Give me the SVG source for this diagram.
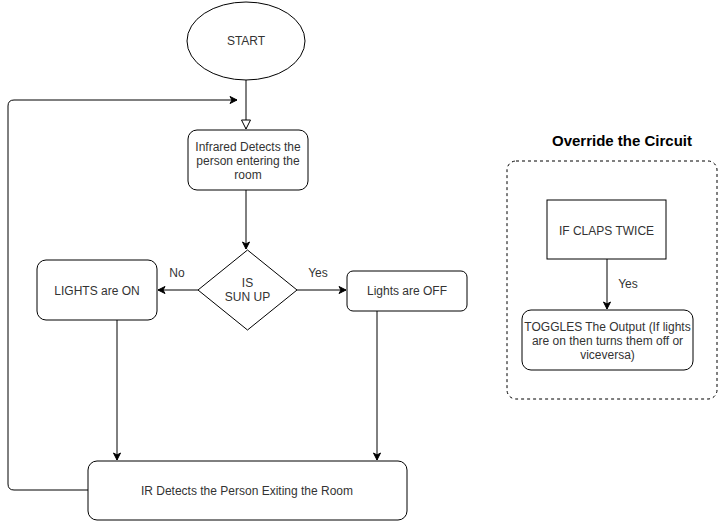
<svg xmlns="http://www.w3.org/2000/svg" width="723" height="521" viewBox="0 0 723 521">
<defs>
<style>
text{font-family:"Liberation Sans",Arial,sans-serif;font-size:12px;fill:#333;text-anchor:middle}
.s{fill:#fff;stroke:#000;stroke-width:1}
.c{fill:none;stroke:#000;stroke-width:1}
.t{font-size:15px;font-weight:bold;fill:#000}
</style>
<marker id="a" markerWidth="10" markerHeight="10" refX="8" refY="5" orient="auto" markerUnits="userSpaceOnUse">
<path d="M1,1.5 L8,5 L1,8.5 L3,5 Z" fill="#000" stroke="#000"/>
</marker>
<marker id="o" markerWidth="12" markerHeight="12" refX="10" refY="6" orient="auto" markerUnits="userSpaceOnUse">
<path d="M1,1.5 L10,6 L1,10.5 Z" fill="#fff" stroke="#000"/>
</marker>
</defs>
<rect width="723" height="521" fill="#fff"/>
<g id="connectors">
<path class="c" d="M246,80 V129" marker-end="url(#o)"/>
<path class="c" d="M246,190 V249" marker-end="url(#a)"/>
<path class="c" d="M198,290 H158" marker-end="url(#a)"/>
<path class="c" d="M297,290 H346" marker-end="url(#a)"/>
<path class="c" d="M117,320 V460" marker-end="url(#a)"/>
<path class="c" d="M377,311 V460" marker-end="url(#a)"/>
<path class="c" d="M88,490 H14 Q8,490 8,484 V106 Q8,100 14,100 H237" marker-end="url(#a)"/>
<path class="c" d="M607,259 V309" marker-end="url(#a)"/>
<text x="177" y="277">No</text>
<rect x="308" y="266" width="21" height="14" fill="#fff"/>
<text x="318" y="277">Yes</text>
<rect x="618" y="277" width="21" height="14" fill="#fff"/>
<text x="628" y="288">Yes</text>
</g>
<g id="start">
<ellipse class="s" cx="246" cy="41" rx="59" ry="39"/>
<text x="246" y="45">START</text>
</g>
<g id="infrared">
<rect class="s" x="188" y="130" width="120" height="60" rx="9"/>
<text x="248" y="151">Infrared Detects the</text>
<text x="248" y="165">person entering the</text>
<text x="248" y="179">room</text>
</g>
<g id="sunup">
<path class="s" d="M247.5,250 L297,290 L247.5,330 L198,290 Z"/>
<text x="247.5" y="287">IS</text>
<text x="247.5" y="301">SUN UP</text>
</g>
<g id="lightson">
<rect class="s" x="37" y="260" width="120" height="60" rx="9"/>
<text x="97" y="295">LIGHTS are ON</text>
</g>
<g id="lightsoff">
<rect class="s" x="347" y="271" width="120" height="40" rx="6"/>
<text x="407" y="295">Lights are OFF</text>
</g>
<g id="exit">
<rect class="s" x="88" y="461" width="319" height="59" rx="9"/>
<text x="247" y="495">IR Detects the Person Exiting the Room</text>
</g>
<g id="override">
<text class="t" x="622" y="146">Override the Circuit</text>
<rect x="507" y="161" width="210" height="238" rx="9" fill="none" stroke="#000" stroke-dasharray="3,3"/>
</g>
<g id="claps">
<rect class="s" x="547" y="200" width="119" height="59"/>
<text x="606.5" y="235">IF CLAPS TWICE</text>
</g>
<g id="toggles">
<rect class="s" x="522" y="310" width="171" height="60" rx="9"/>
<text x="607.5" y="331">TOGGLES The Output (If lights</text>
<text x="607.5" y="345">are on then turns them off or</text>
<text x="607.5" y="359">viceversa)</text>
</g>
</svg>
